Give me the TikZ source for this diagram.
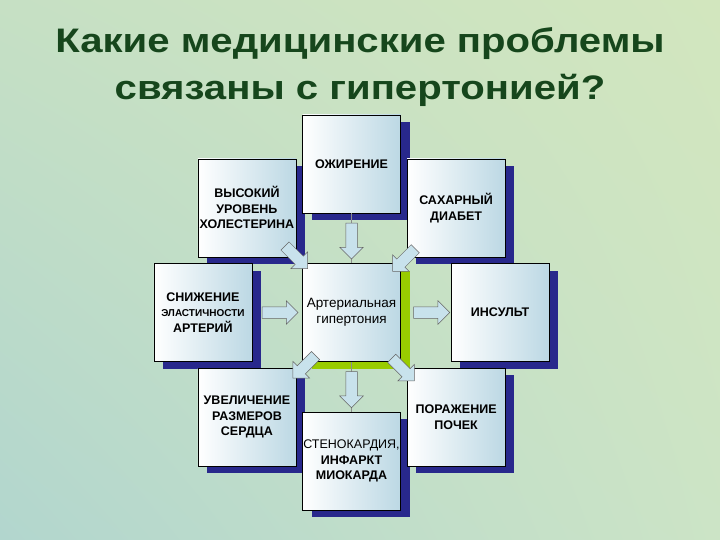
\documentclass[tikz,border=0pt]{standalone}
\usepackage{fontspec}
\setmainfont{Liberation Sans}
\usetikzlibrary{positioning,shapes.arrows,shadows,shadings,calc}

\definecolor{bgA}{RGB}{198,224,196}
\definecolor{bgB}{RGB}{210,230,190}
\definecolor{bgC}{RGB}{178,214,206}
\definecolor{bgD}{RGB}{204,228,198}
\definecolor{shadowblue}{RGB}{40,40,140}
\definecolor{limegreen}{RGB}{153,204,0}
\definecolor{cardblue}{RGB}{188,216,228}
\definecolor{arrowblue}{RGB}{200,226,236}
\definecolor{titlegreen}{RGB}{22,70,28}

\tikzset{
  cardbase/.style={draw=black, line width=0.6pt, minimum width=98pt, minimum height=98pt,
    inner sep=0pt, align=center, left color=white, right color=cardblue},
  card/.style={cardbase, font=\bfseries\fontsize{12.5}{15.5}\selectfont,
    drop shadow={shadow xshift=9pt, shadow yshift=-7pt, fill=shadowblue, opacity=1}},
  maincard/.style={cardbase, font=\fontsize{13.5}{16}\selectfont,
    drop shadow={shadow xshift=9pt, shadow yshift=-7pt, fill=limegreen, opacity=1}},
  blockarrow/.style={single arrow, draw=black!60, fill=arrowblue, line width=0.5pt,
    inner xsep=0pt, inner ysep=5.5pt, minimum width=23pt, minimum height=36pt,
    single arrow head extend=6pt},
  diagarrow/.style={blockarrow, minimum height=32pt},
  link/.style={draw=black!45, line width=0.8pt},
  titletext/.style={text=titlegreen, font=\bfseries\fontsize{34}{40}\selectfont}
}

\begin{document}
\begin{tikzpicture}[x=1pt, y=-1pt, node distance=50pt]
  \shade[upper left=bgA, upper right=bgB, lower left=bgC, lower right=bgD] (0,0) rectangle (720,540);
  \useasboundingbox (0,0) rectangle (720,540);

  % title
  \node[titletext, anchor=base] (title1) at (360,53) {\scalebox{1.18}[1]{Какие медицинские проблемы}};
  \node[titletext, anchor=base] (title2) at (360,100) {\scalebox{1.18}[1]{связаны с гипертонией?}};

  % boxes
  \node[maincard] (ag) at (351.5,312.5) {Артериальная\\гипертония};
  \node[card, above left=6pt and 6pt of ag] (vys) {ВЫСОКИЙ\\УРОВЕНЬ\\ХОЛЕСТЕРИНА};
  \node[card, above=of ag] (ozh) {ОЖИРЕНИЕ};
  \node[card, above right=6pt and 6pt of ag] (sah) {САХАРНЫЙ\\ДИАБЕТ};
  \node[card, left=of ag] (sniz) {СНИЖЕНИЕ\\{\fontsize{10}{14}\selectfont ЭЛАСТИЧНОСТИ}\\АРТЕРИЙ};
  \node[card, right=of ag] (insult) {ИНСУЛЬТ};
  \node[card, below left=6pt and 6pt of ag] (uvel) {УВЕЛИЧЕНИЕ\\РАЗМЕРОВ\\СЕРДЦА};
  \node[card, below=of ag] (sten) {{\mdseries СТЕНОКАРДИЯ,}\\ИНФАРКТ\\МИОКАРДА};
  \node[card, below right=6pt and 6pt of ag] (por) {ПОРАЖЕНИЕ\\ПОЧЕК};

  % links
  \draw[link] (ozh) -- (ag);
  \draw[link] (ag) -- (sten);

  % block arrows
  \node[blockarrow, rotate=-90] (a ozh) at ($(ozh.south)!0.5!(ag.north)$) {};
  \node[blockarrow] (a sniz) at ($(sniz.east)!0.5!(ag.west)$) {};
  \node[blockarrow, xshift=3pt] (a ins) at ($(ag.east)!0.5!(insult.west)$) {};
  \node[blockarrow, rotate=-90] (a sten) at ($(ag.south)!0.5!(sten.north)$) {};
  \node[diagarrow, rotate=-45, xshift=-7pt] (a vys) at ($(vys.south east)!0.5!(ag.north west)$) {};
  \node[diagarrow, rotate=-135, xshift=-3pt] (a sah) at ($(sah.south west)!0.5!(ag.north east)$) {};
  \node[diagarrow, rotate=-135, xshift=-5pt, yshift=5pt] (a uvel) at ($(ag.south west)!0.5!(uvel.north east)$) {};
  \node[diagarrow, rotate=-45, yshift=-4pt] (a por) at ($(ag.south east)!0.5!(por.north west)$) {};
\end{tikzpicture}
\end{document}
